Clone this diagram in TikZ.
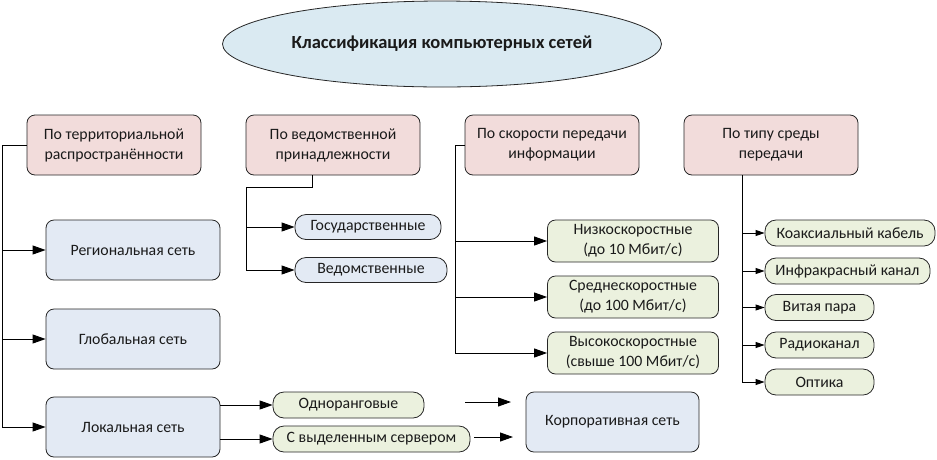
\documentclass[tikz,border=0pt]{standalone}
\usepackage{fontspec}
\setmainfont{Carlito}
\usetikzlibrary{arrows.meta,shapes.geometric}
\definecolor{pinkc}{HTML}{F2DCDB}
\definecolor{bluec}{HTML}{E3EAF4}
\definecolor{greenc}{HTML}{EBF1DE}
\definecolor{ellc}{HTML}{DAEAF2}
\definecolor{txt}{HTML}{1A1A1A}
\begin{document}
\begin{tikzpicture}[x=1pt,y=-1pt,
  box/.style={draw=black!85, line width=0.8pt, inner sep=0pt, align=center, text=txt,
    font=\fontsize{15.8}{20}\selectfont},
  cat/.style={box, rounded corners=8pt, fill=pinkc, minimum width=174pt, minimum height=60pt},
  net/.style={box, rounded corners=8pt, fill=bluec, minimum width=174pt, minimum height=60pt},
  pillb/.style={box, rounded corners=11pt, fill=bluec, minimum height=25pt},
  pillg/.style={box, rounded corners=11pt, fill=greenc, minimum height=26pt},
  speed/.style={box, rounded corners=8pt, fill=greenc, minimum width=171pt, minimum height=42pt},
  conn/.style={draw=black, line width=0.9pt},
  arr/.style={conn, -{Triangle[length=13pt,width=9pt]}},
  sarr/.style={conn, -{Triangle[length=9pt,width=6pt]}}]
\useasboundingbox (0,0) rectangle (937,459);

\node[box, ellipse, fill=ellc, minimum width=439pt, minimum height=86pt,
  font=\fontsize{18.5}{22}\selectfont\bfseries] (title) at (442,44) {Классификация компьютерных сетей};

\node[cat] (c1) at (114,145) {По территориальной\\распространённости};
\node[cat] (c2) at (333,145) {По ведомственной\\принадлежности};
\node[cat] (c3) at (552,145) {По скорости передачи\\информации};
\node[cat] (c4) at (771,145) {По типу среды\\передачи};

\node[net] (reg) at (133,250) {Региональная сеть};
\node[net] (glob) at (133,339) {Глобальная сеть};
\node[net] (loc) at (133,427) {Локальная сеть};

\node[pillb, minimum width=146pt] (gos) at (368,227) {Государственные};
\node[pillb, minimum width=152pt] (ved) at (371,270) {Ведомственные};

\node[speed] (low) at (633,241) {Низкоскоростные\\(до 10 Мбит/с)};
\node[speed] (mid) at (633,297) {Среднескоростные\\(до 100 Мбит/с)};
\node[speed] (high) at (633,353) {Высокоскоростные\\(свыше 100 Мбит/с)};

\node[pillg, minimum width=170pt] (coax) at (850,233) {Коаксиальный кабель};
\node[pillg, minimum width=165pt] (ir) at (847.5,271) {Инфракрасный канал};
\node[pillg, minimum width=109pt] (tp) at (819.5,307.5) {Витая пара};
\node[pillg, minimum width=109pt] (radio) at (819.5,345) {Радиоканал};
\node[pillg, minimum width=109pt] (opt) at (819.5,382) {Оптика};

\node[pillg, minimum width=151pt] (odn) at (348.5,405) {Одноранговые};
\node[pillg, minimum width=197pt] (srv) at (371.5,439) {С выделенным сервером};

\node[net, minimum width=173pt] (corp) at (612.5,422) {Корпоративная сеть};

% territorial
\coordinate (t1) at (2,145);
\draw[conn] (c1.west) -- (t1) -- (t1 |- loc.west);
\foreach \n in {reg,glob,loc} \draw[arr] (t1 |- \n.west) -- (\n.west);

% departmental
\coordinate (t2) at (246,187);
\draw[conn] ([xshift=-21pt]c2.south) |- (t2) -- (t2 |- ved.west);
\foreach \n in {gos,ved} \draw[arr] (t2 |- \n.west) -- (\n.west);

% speed
\coordinate (t3) at (455,145);
\draw[conn] (c3.west) -- (t3) -- (t3 |- high.west);
\foreach \n in {low,mid,high} \draw[arr] (t3 |- \n.west) -- (\n.west);

% medium
\coordinate (t4) at (742,175);
\draw[conn] (t4) -- (t4 |- opt.west);
\foreach \n in {coax,ir,tp,radio,opt} \draw[sarr] (t4 |- \n.west) -- (\n.west);

% local
\draw[arr] (loc.east |- odn.west) -- (odn.west);
\draw[arr] (loc.east |- srv.west) -- (srv.west);

% floating arrows
\coordinate (f1a) at (465,402);
\coordinate (f1b) at (511,402);
\coordinate (f2a) at (474,437);
\coordinate (f2b) at (513,437);
\draw[arr] (f1a) -- (f1b);
\draw[arr] (f2a) -- (f2b);
\end{tikzpicture}
\end{document}
